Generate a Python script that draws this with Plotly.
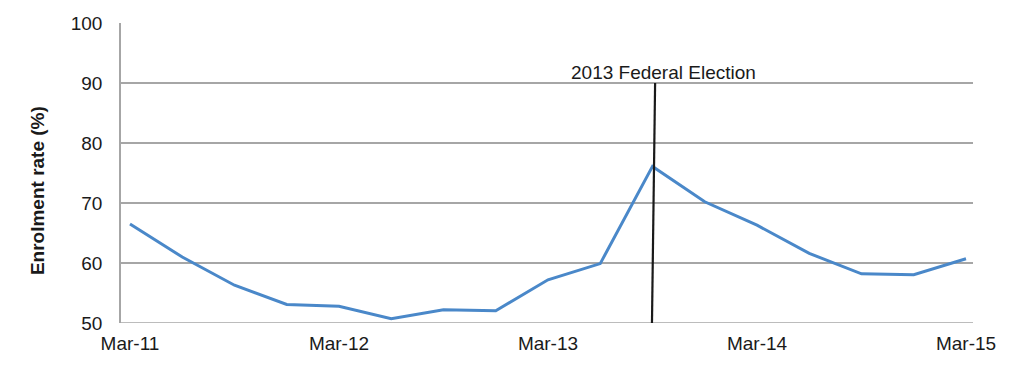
import plotly.graph_objects as go

quarter_index = list(range(17))
enrolment_rate = [66.5, 61.0, 56.3, 53.1, 52.8, 50.7, 52.2, 52.05, 57.2, 59.9,
                  76.1, 70.2, 66.3, 61.6, 58.2, 58.05, 60.7]
tick_positions = [0, 4, 8, 12, 16]
tick_labels = ["Mar-11", "Mar-12", "Mar-13", "Mar-14", "Mar-15"]
election_x = [9.99, 10.05]
election_y = [50, 90]
election_label = "2013 Federal Election"
y_title = "Enrolment rate (%)"

font_family = "Liberation Sans, Arial, sans-serif"

fig = go.Figure()
fig.add_trace(go.Scatter(
    x=quarter_index, y=enrolment_rate, mode="lines",
    line=dict(color="#4a88c9", width=3), showlegend=False, hoverinfo="x+y"))
fig.add_trace(go.Scatter(
    x=election_x, y=election_y, mode="lines",
    line=dict(color="#1a1a1a", width=2.2), showlegend=False, hoverinfo="skip"))
fig.add_annotation(
    x=election_x[1], y=election_y[1], text=election_label, showarrow=False,
    xanchor="center", yanchor="bottom", xshift=8, yshift=-2,
    font=dict(family=font_family, size=19, color="#1a1a1a"))
fig.add_annotation(
    xref="paper", yref="paper", x=-0.0986, y=0.443, text="<b>" + y_title + "</b>",
    showarrow=False, textangle=-90, xanchor="center", yanchor="middle",
    font=dict(family=font_family, size=19, color="#1a1a1a"))

fig.update_layout(
    width=1016, height=359,
    margin=dict(l=113, r=51, t=15, b=44),
    paper_bgcolor="white", plot_bgcolor="white",
    font=dict(family=font_family, size=19, color="#1a1a1a"),
    xaxis=dict(range=[-0.172, 16.134], tickmode="array", tickvals=tick_positions,
               ticktext=tick_labels, showgrid=False, zeroline=False, automargin=False,
               showline=False, ticks="", ticklabelstandoff=7, tickfont=dict(size=19)),
    yaxis=dict(range=[50, 100], dtick=10, showgrid=True, gridcolor="#a6a6a6",
               gridwidth=1.5, zeroline=False, showline=True, linecolor="#a6a6a6",
               linewidth=1.5, ticks="", ticklabelstandoff=13, automargin=False,
               tickfont=dict(size=19)),
)
fig.add_shape(type="line", xref="paper", yref="y", x0=0, x1=1, y0=50, y1=50,
              line=dict(color="#a6a6a6", width=1.5), layer="below")
fig.write_html("out.html")
